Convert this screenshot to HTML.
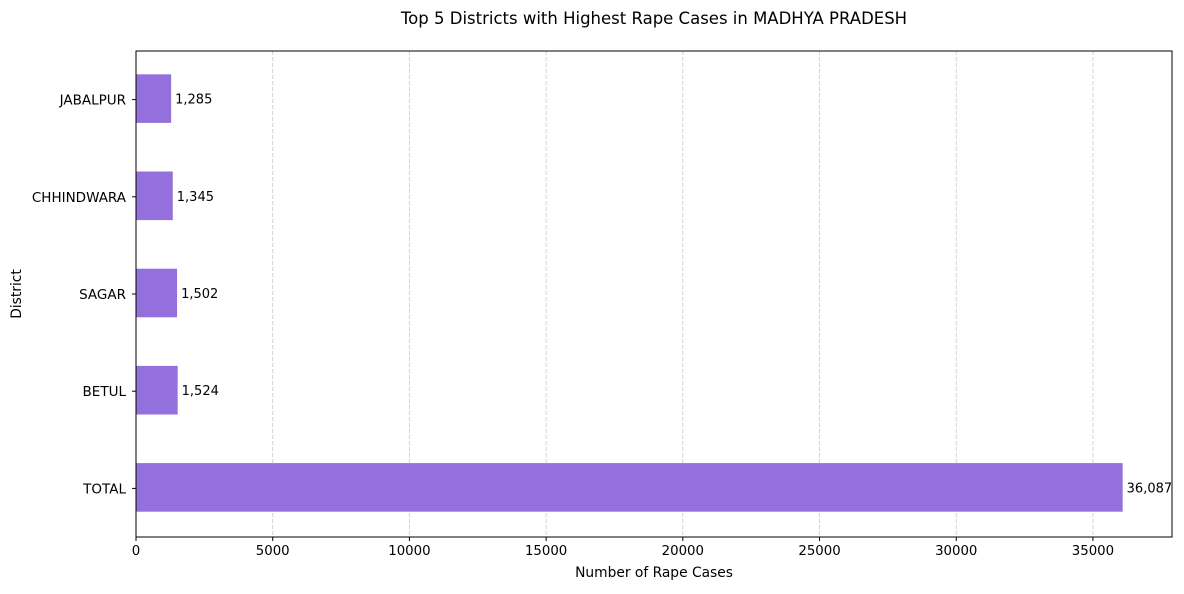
<!DOCTYPE html>
<html><head><meta charset="utf-8"><style>
body{margin:0;background:#fff;font-family:"Liberation Sans",sans-serif;}
svg text{font-family:"DejaVu Sans","Liberation Sans",sans-serif;}
</style></head><body>
<svg id="chart" width="1184" height="589" xmlns="http://www.w3.org/2000/svg">
<rect width="1184" height="589" fill="#fff"/>
<text x="654" y="24" font-size="16.5" text-anchor="middle">Top 5 Districts with Highest Rape Cases in MADHYA PRADESH</text>
<g id="grid"></g><g id="bars"></g><g id="axes"></g>
<text x="654" y="577" font-size="13.8" text-anchor="middle">Number of Rape Cases</text>
<text transform="translate(21,294) rotate(-90)" font-size="13.8" text-anchor="middle">District</text>
</svg>
<script>
const categories=["TOTAL","BETUL","SAGAR","CHHINDWARA","JABALPUR"];
const values=[36087,1524,1502,1345,1285];
const xTicks=[0,5000,10000,15000,20000,25000,30000,35000];
const NS="http://www.w3.org/2000/svg";
const L=136,R=1172,T=51,B=537;
const xmax=Math.max(...values)*1.05;
const x=v=>L+v/xmax*(R-L);
const n=categories.length;
const unit=(B-T)/n;
const y=i=>B-unit*(i+0.5);
function mk(tag,attrs,parent){const e=document.createElementNS(NS,tag);for(const k in attrs)e.setAttribute(k,attrs[k]);document.getElementById(parent).appendChild(e);return e;}
xTicks.forEach(t=>{
 const g=mk("line",{x1:x(t),x2:x(t),y1:T,y2:B,stroke:"#c8c8c8","stroke-dasharray":"4,2","stroke-width":0.8},"grid");
 
 
 const tk=mk("line",{x1:x(t),x2:x(t),y1:B,y2:B+4,stroke:"#000"},"axes");
 
 
 const lb=mk("text",{x:x(t),y:B+18,"font-size":13.3,"text-anchor":"middle"},"axes");
 lb.textContent=t;
 
 
});
categories.forEach((c,i)=>{
 const bh=unit*0.5;
 const r=mk("rect",{x:L,y:y(i)-bh/2-1,width:x(values[i])-L,height:bh,fill:"#9370DB"},"bars");
 
 
 const v=mk("text",{x:x(values[i])+4,y:y(i)+4,"font-size":13},"bars");
 v.textContent=values[i].toLocaleString('en-US');
 
 
 const tk=mk("line",{x1:L-4,x2:L,y1:y(i),y2:y(i),stroke:"#000"},"axes");
 
 
 const lb=mk("text",{x:L-10,y:y(i)+5,"font-size":13.5,"text-anchor":"end"},"axes");
 lb.textContent=c;
 
 
});
const fr=mk("rect",{x:L,y:T,width:R-L,height:B-T,fill:"none",stroke:"#000","stroke-width":1},"axes");


</script>
</body></html>
